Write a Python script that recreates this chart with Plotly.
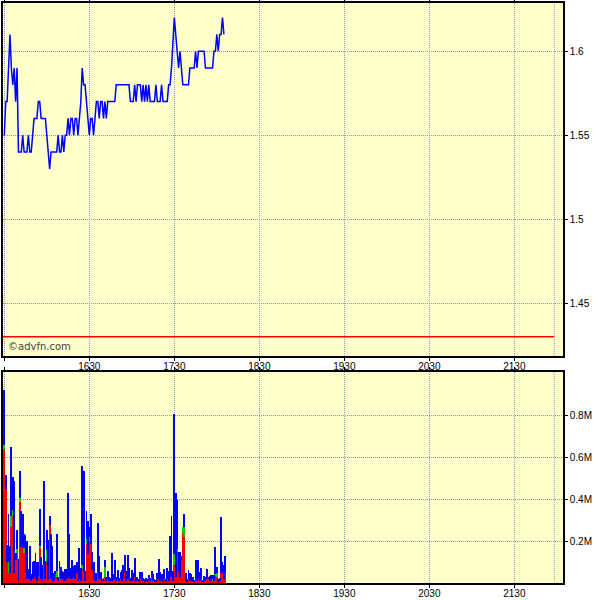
import plotly.graph_objects as go
import pandas as pd

# ---------------- data ----------------
day = "2024-01-02"
start_time = "15:30"          # first minute of data
prices = [
    1.55, 1.57, 1.57, 1.59, 1.61, 1.59, 1.58, 1.59, 1.57, 1.59,
    1.54, 1.54, 1.54, 1.55, 1.54, 1.54, 1.54, 1.55, 1.54, 1.54,
    1.55, 1.56, 1.56, 1.56, 1.57, 1.57, 1.56, 1.56, 1.56, 1.56,
    1.55, 1.54, 1.53, 1.54, 1.54, 1.54, 1.54, 1.54, 1.55, 1.54,
    1.54, 1.55, 1.54, 1.55, 1.55, 1.56, 1.55, 1.56, 1.56, 1.55,
    1.56, 1.56, 1.55, 1.56, 1.57, 1.59, 1.58, 1.58, 1.57, 1.56,
    1.55, 1.56, 1.56, 1.55, 1.56, 1.57, 1.57, 1.56, 1.57, 1.57,
    1.56, 1.57, 1.56, 1.57, 1.57, 1.57, 1.57, 1.57, 1.57, 1.58,
    1.58, 1.58, 1.58, 1.58, 1.58, 1.58, 1.58, 1.58, 1.58, 1.57,
    1.57, 1.57, 1.58, 1.57, 1.58, 1.58, 1.58, 1.57, 1.58, 1.57,
    1.58, 1.57, 1.58, 1.57, 1.57, 1.57, 1.57, 1.58, 1.57, 1.57,
    1.57, 1.58, 1.57, 1.57, 1.57, 1.57, 1.58, 1.58, 1.59, 1.61,
    1.62, 1.61, 1.60, 1.59, 1.60, 1.59, 1.58, 1.58, 1.58, 1.58,
    1.58, 1.59, 1.59, 1.59, 1.59, 1.60, 1.59, 1.60, 1.60, 1.60,
    1.60, 1.60, 1.59, 1.59, 1.59, 1.59, 1.59, 1.59, 1.60, 1.60,
    1.61, 1.60, 1.61, 1.61, 1.62, 1.61,
]

# volume per minute, in millions: total, red (bottom) and green (middle) parts
vol_total = [
    0.925, 0.52, 0.184, 0.33, 0.178, 0.65, 0.51, 0.49, 0.144, 0.254,
    0.116, 0.535, 0.346, 0.33, 0.235, 0.232, 0.20, 0.07, 0.18, 0.044,
    0.10, 0.106, 0.144, 0.103, 0.103, 0.355, 0.127, 0.087, 0.49, 0.108,
    0.254, 0.206, 0.32, 0.235, 0.18, 0.048, 0.057, 0.235, 0.032, 0.106,
    0.08, 0.057, 0.052, 0.067, 0.067, 0.43, 0.235, 0.075, 0.11, 0.084,
    0.087, 0.10, 0.022, 0.17, 0.075, 0.563, 0.536, 0.059, 0.346, 0.30,
    0.27, 0.33, 0.15, 0.10, 0.048, 0.05, 0.29, 0.13, 0.054, 0.02,
    0.027, 0.11, 0.029, 0.059, 0.032, 0.025, 0.143, 0.044, 0.11, 0.032,
    0.063, 0.027, 0.056, 0.063, 0.087, 0.135, 0.06, 0.135, 0.071, 0.025,
    0.063, 0.048, 0.12, 0.032, 0.029, 0.022, 0.054, 0.054, 0.025, 0.022,
    0.025, 0.019, 0.04, 0.025, 0.059, 0.044, 0.02, 0.016, 0.05, 0.117,
    0.054, 0.044, 0.016, 0.068, 0.02, 0.071, 0.06, 0.225, 0.32, 0.06,
    0.81, 0.43, 0.40, 0.15, 0.15, 0.13, 0.27, 0.33, 0.048, 0.02,
    0.063, 0.05, 0.044, 0.032, 0.016, 0.11, 0.032, 0.11, 0.054, 0.075,
    0.016, 0.035, 0.032, 0.068, 0.032, 0.035, 0.04, 0.04, 0.038, 0.175,
    0.076, 0.02, 0.025, 0.317, 0.103, 0.087, 0.13,
]
vol_red = [
    0.643, 0.45, 0.10, 0.05, 0.05, 0.27, 0.32, 0.05, 0.11, 0.143,
    0.01, 0.39, 0.175, 0.17, 0.143, 0.05, 0.02, 0.02, 0.02, 0.01,
    0.02, 0.03, 0.02, 0.01, 0.03, 0.167, 0.02, 0.01, 0.087, 0.02,
    0.10, 0.02, 0.28, 0.02, 0.01, 0.01, 0.04, 0.03, 0.01, 0.07,
    0.02, 0.02, 0.01, 0.01, 0.02, 0.03, 0.02, 0.02, 0.02, 0.03,
    0.02, 0.05, 0.01, 0.02, 0.01, 0.07, 0.055, 0.01, 0.19, 0.14,
    0.20, 0.19, 0.063, 0.03, 0.01, 0.01, 0.048, 0.02, 0.02, 0.01,
    0.01, 0.032, 0.01, 0.02, 0.01, 0.01, 0.02, 0.01, 0.02, 0.01,
    0.02, 0.01, 0.02, 0.01, 0.02, 0.056, 0.01, 0.02, 0.02, 0.01,
    0.01, 0.01, 0.032, 0.01, 0.01, 0.005, 0.02, 0.01, 0.01, 0.005,
    0.01, 0.005, 0.01, 0.01, 0.03, 0.01, 0.005, 0.005, 0.01, 0.02,
    0.01, 0.01, 0.005, 0.02, 0.005, 0.02, 0.01, 0.03, 0.03, 0.01,
    0.087, 0.03, 0.15, 0.055, 0.03, 0.11, 0.24, 0.22, 0.01, 0.005,
    0.02, 0.01, 0.01, 0.01, 0.005, 0.02, 0.01, 0.02, 0.01, 0.02,
    0.005, 0.01, 0.01, 0.02, 0.019, 0.01, 0.01, 0.01, 0.01, 0.035,
    0.03, 0.005, 0.01, 0.05, 0.05, 0.02, 0.05,
]
vol_green = [0.0] * len(vol_total)
green_parts = {0: 0.019, 3: 0.05, 5: 0.05, 6: 0.03, 9: 0.02, 11: 0.02, 14: 0.024,
               25: 0.011, 30: 0.06, 37: 0.03, 55: 0.016, 58: 0.02, 60: 0.02,
               71: 0.048, 120: 0.055, 122: 0.016, 126: 0.03, 127: 0.05,
               147: 0.01, 149: 0.01, 150: 0.02}
for k, v in green_parts.items():
    vol_green[k] = v
vol_blue = [max(t - r - g, 0) for t, r, g in zip(vol_total, vol_red, vol_green)]

prev_close = 1.43
axis_start = "15:29:05"
axis_end = "22:04:20"
session_end = "21:58:15"
first_tick = "16:30"

price_tickvals = [1.45, 1.5, 1.55, 1.6]
price_ticktext = ["1.45", "1.5", "1.55", "1.6"]
price_minor = [1.425, 1.475, 1.525, 1.575, 1.625]
vol_tickvals = [0.2, 0.4, 0.6, 0.8]
vol_ticktext = ["0.2M", "0.4M", "0.6M", "0.8M"]
vol_minor = [0.1, 0.3, 0.5, 0.7, 0.9]

# ---------------- build ----------------
t0 = pd.Timestamp(f"{day} {start_time}")
price_times = [t0 + pd.Timedelta(minutes=i) for i in range(len(prices))]
vol_times = [t0 + pd.Timedelta(minutes=i) for i in range(len(vol_total))]
x_range = [f"{day} {axis_start}", f"{day} {axis_end}"]
p_range = [1.4186, 1.6287]
v_range = [0, 1.01]

BG = "#FFFFCC"
GRID_Y = "#999999"
GRID_X = "#8CA0CC"
GRID_DASH = "1px,1px"
FONT = dict(family="Liberation Sans, Arial, sans-serif", size=10, color="black")

fig = go.Figure()
fig.add_trace(go.Scatter(x=price_times, y=prices, mode="lines",
                         line=dict(color="#0000FF", width=1.5),
                         xaxis="x", yaxis="y", showlegend=False))
bar_w = 38000
fig.add_trace(go.Bar(x=vol_times, y=vol_red, marker=dict(color="#FF0000", line=dict(width=0)),
                     width=bar_w, xaxis="x2", yaxis="y2", showlegend=False))
fig.add_trace(go.Bar(x=vol_times, y=vol_green, marker=dict(color="#00CC00", line=dict(width=0)),
                     width=bar_w, xaxis="x2", yaxis="y2", showlegend=False))
fig.add_trace(go.Bar(x=vol_times, y=vol_blue, marker=dict(color="#0000FF", line=dict(width=0)),
                     width=bar_w, xaxis="x2", yaxis="y2", showlegend=False))

xcommon = dict(type="date", range=x_range, tickformat="%H%M",
               tick0=f"{day} {first_tick}", dtick=3600000,
               ticks="outside", ticklen=3, tickcolor="black", ticklabelstandoff=-3,
               showgrid=True, gridcolor=GRID_X, griddash=GRID_DASH, gridwidth=1,
               showline=True, linecolor="black", linewidth=1.5, mirror="ticks",
               zeroline=False, tickfont=FONT, automargin=False)

ycommon = dict(side="right", tickmode="array", ticks="outside", ticklen=3, tickcolor="black",
               showgrid=True, gridcolor=GRID_Y, griddash=GRID_DASH, gridwidth=1,
               showline=True, linecolor="black", linewidth=1.5, mirror=True,
               zeroline=False, tickfont=FONT, automargin=False)

minor_common = dict(side="right", tickmode="array", ticks="outside", ticklen=3,
                    tickcolor="black", showticklabels=False, showgrid=False,
                    showline=False, zeroline=False, automargin=False)

fig.update_layout(
    width=600, height=600,
    margin=dict(l=3, r=37, t=3, b=17, autoexpand=False),
    paper_bgcolor="white", plot_bgcolor=BG,
    barmode="stack", bargap=0,
    font=FONT,
    xaxis=dict(anchor="y", domain=[0, 1], **xcommon),
    xaxis2=dict(anchor="y2", domain=[0, 1], matches="x", **xcommon),
    yaxis=dict(domain=[0.3914, 1], range=p_range, anchor="x",
               tickvals=price_tickvals, ticktext=price_ticktext, **ycommon),
    yaxis2=dict(domain=[0, 0.3643], range=v_range, anchor="x2",
                tickvals=vol_tickvals, ticktext=vol_ticktext, **ycommon),
    yaxis3=dict(overlaying="y", anchor="x", range=p_range, tickvals=price_minor, **minor_common),
    yaxis4=dict(overlaying="y2", anchor="x2", range=v_range, tickvals=vol_minor, **minor_common),
)

# previous close line
fig.add_shape(type="line", xref="x", yref="y",
              x0=x_range[0], x1=f"{day} {session_end}", y0=prev_close, y1=prev_close,
              line=dict(color="#FF0000", width=1.5))
# session end marker on both panels
for xr, yr in (("x", "y domain"), ("x2", "y2 domain")):
    fig.add_shape(type="line", xref=xr, yref=yr,
                  x0=f"{day} {session_end}", x1=f"{day} {session_end}", y0=0, y1=1,
                  line=dict(color=GRID_X, width=1, dash=GRID_DASH))

fig.add_annotation(text="©advfn.com", xref="paper", yref="y domain",
                   x=0, y=0.026, xanchor="left", yanchor="middle", xshift=3,
                   showarrow=False,
                   font=dict(family="DejaVu Sans, Verdana, sans-serif", size=10, color="#444444"))

fig.write_html("out.html", config={"displayModeBar": False},
               post_script="document.body.style.margin='0px';document.body.style.overflow='hidden';")
